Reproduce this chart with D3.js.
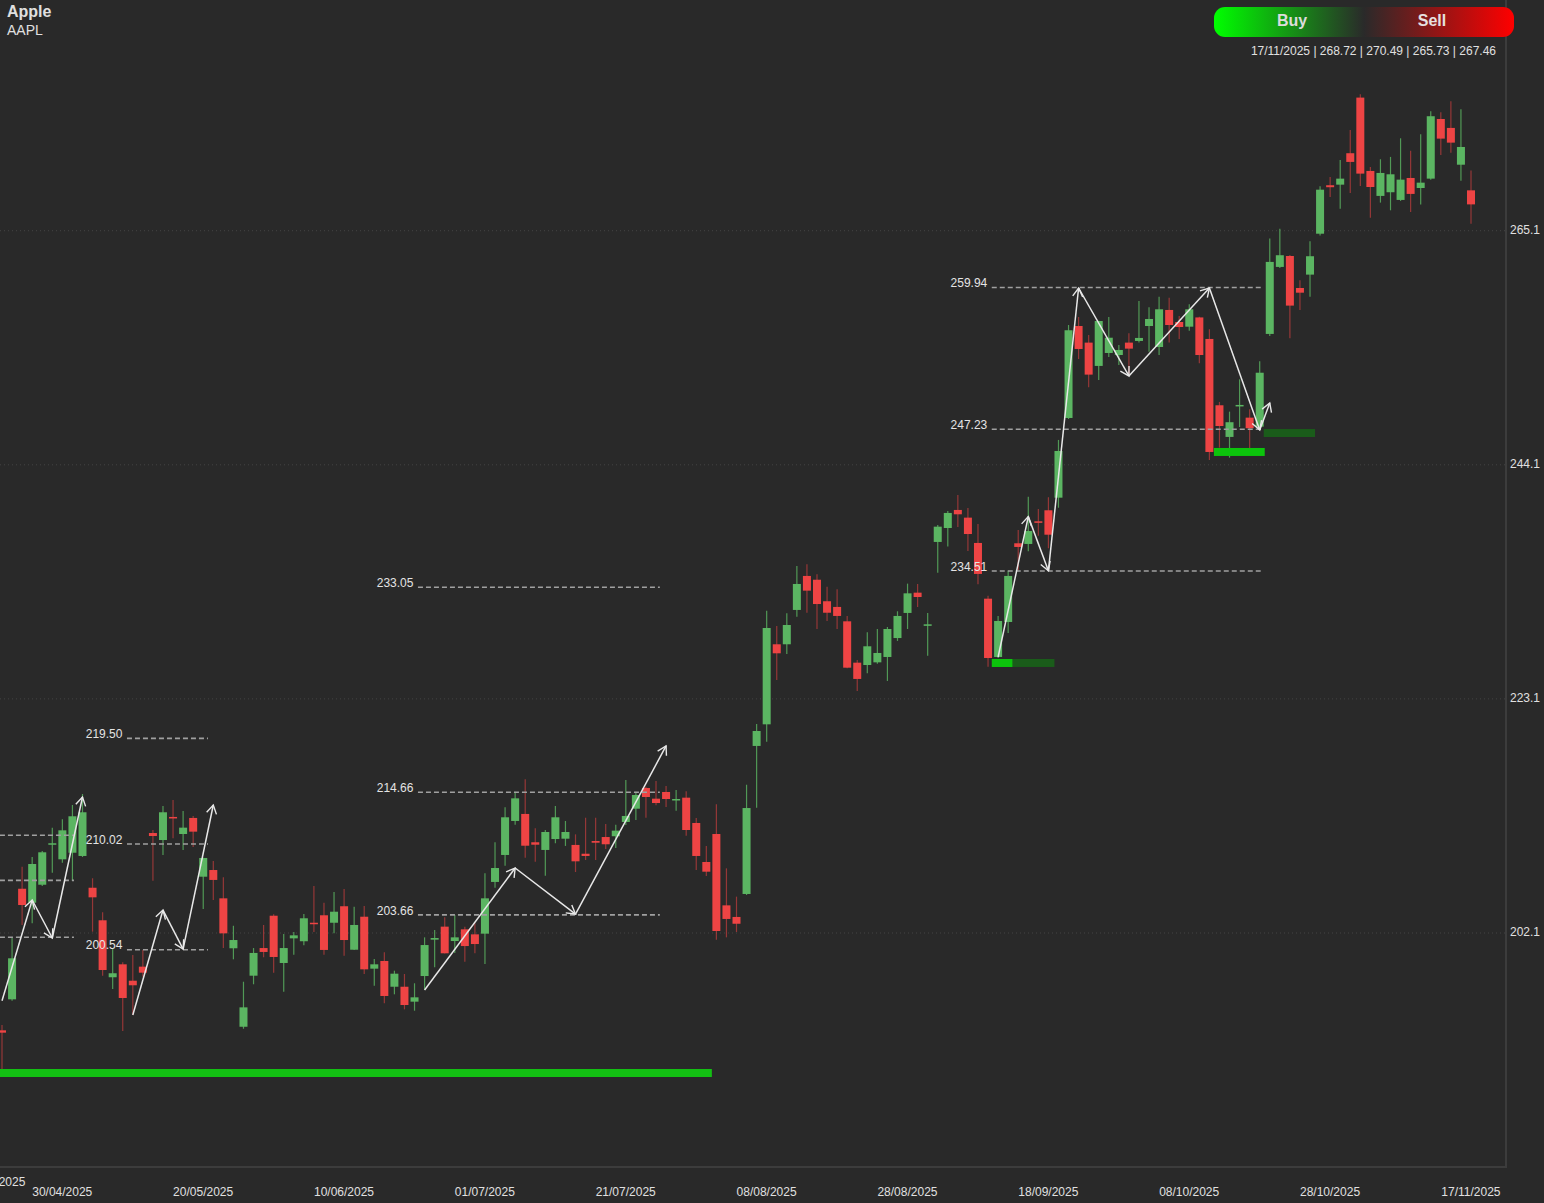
<!DOCTYPE html>
<html>
<head>
<meta charset="utf-8">
<script src="https://cdn.jsdelivr.net/npm/d3@7"></script>
<style>
    html, body { margin: 0; padding: 0; background: #292929; overflow: hidden; }
    svg { display: block; font-family: "Liberation Sans", Arial, sans-serif; }
</style>
</head>
<body>
<div id="graph"></div>
<script>
const opens = [193.37,196.15,206.07,204.82,206.43,210.06,208.71,209.30,209.01,206.16,203.24,198.13,199.29,197.82,199.08,211.07,210.44,212.51,210.98,212.42,207.15,207.75,205.21,200.73,193.69,198.27,200.75,203.65,199.41,201.62,201.36,203.02,203.69,203.02,204.50,200.60,
    203.56,198.90,199.59,197.28,197.28,195.94,198.24,201.50,202.67,201.38,202.43,201.98,202.04,206.68,209.10,212.15,212.78,210.24,209.55,210.53,210.56,210.00,209.21,210.35,210.71,210.78,212.06,213.25,215.11,214.15,214.75,214.00,214.24,211.97,208.47,210.98,204.58,203.54,205.60,218.88,
    220.82,228.00,228.00,231.08,234.13,233.79,231.86,231.35,230.06,226.35,226.14,226.38,226.86,228.56,230.81,232.63,229.67,237.18,238.43,240.05,239.36,237.09,232.09,226.86,230.00,237.06,237.00,239.03,240.02,241.15,
    248.30,256.55,255.06,252.97,254.13,253.95,255.06,255.21,256.55,254.67,257.99,256.91,256.49,257.32,255.39,249.44,246.60,249.35,248.33,247.52,
    255.84,261.85,262.83,259.96,261.16,264.83,269.18,269.23,272.05,277.04,270.46,268.22,268.55,267.86,269.83,268.93,269.77,275.12,274.32,271.02,268.72];
const highs = [193.85,201.65,208.05,208.92,209.46,211.55,212.30,213.58,214.57,207.01,203.96,200.73,199.47,200.13,200.58,211.34,213.49,214.03,213.05,212.60,208.86,208.56,207.10,202.75,197.73,200.75,202.82,203.78,202.01,202.19,203.80,206.32,204.82,205.78,206.05,204.46,
    204.52,199.77,200.37,198.72,198.42,197.59,201.71,202.37,203.51,203.72,202.67,202.97,207.46,210.24,213.38,214.78,215.89,211.49,211.34,213.49,212.15,210.95,212.44,212.44,211.88,211.82,215.83,214.78,215.23,215.74,215.29,214.93,214.81,212.42,209.91,213.65,207.90,205.36,215.40,220.85,
    231.01,229.64,230.78,235.02,235.18,234.28,233.17,232.93,230.54,226.59,229.08,229.37,229.55,230.96,233.44,233.41,230.81,238.70,239.96,241.39,240.23,238.79,232.36,230.54,234.60,238.25,241.24,240.14,241.19,246.33,
    256.64,257.36,255.75,257.03,257.36,254.85,255.90,258.80,258.23,259.18,259.09,257.45,258.50,257.39,256.26,249.74,248.87,251.77,249.08,253.39,
    264.39,265.28,262.92,260.65,264.15,269.09,269.92,271.45,274.14,277.34,270.82,271.51,271.72,273.39,272.28,273.75,275.82,275.73,276.71,275.99,270.49];
const lows = [189.81,196.03,202.82,202.97,206.32,207.51,208.41,206.77,208.92,202.22,198.27,197.08,193.31,194.74,198.18,206.79,209.10,210.60,209.55,209.82,204.25,205.06,200.75,199.74,193.51,197.50,199.92,198.54,196.83,200.15,201.00,202.19,200.15,202.07,200.06,200.58,
    198.42,197.37,195.79,196.60,195.25,195.13,196.99,199.02,200.25,200.31,199.53,200.28,199.32,206.16,208.14,211.82,208.86,208.50,207.24,210.15,209.91,207.57,208.65,208.65,209.64,209.73,211.79,212.24,212.44,213.56,213.40,213.07,210.83,207.75,207.21,201.50,201.71,202.19,205.51,213.34,
    219.26,224.80,227.13,230.48,230.83,229.37,230.09,229.37,225.85,223.81,225.40,226.26,224.71,228.30,229.37,231.35,226.98,234.42,236.76,238.52,236.37,233.38,225.99,226.77,229.01,234.67,236.34,237.74,236.61,240.25,
    248.21,253.59,251.06,251.71,253.77,253.06,252.07,255.06,254.25,253.95,255.06,255.39,256.13,253.21,244.53,245.64,244.74,247.49,245.58,247.31,
    255.66,261.76,255.45,257.99,259.18,264.66,268.13,267.08,268.49,269.11,266.27,267.62,266.93,267.77,266.78,267.44,269.68,271.89,272.10,269.59,265.73];
const closes = [193.16,199.83,204.61,208.29,209.34,210.15,211.31,212.57,212.93,205.30,198.78,198.49,196.27,197.41,198.54,210.80,212.93,212.42,211.55,211.19,208.83,206.86,202.07,201.47,195.43,200.31,200.40,199.95,200.75,201.89,203.42,202.91,200.58,204.01,201.47,202.82,
    198.84,199.29,196.45,198.45,195.64,196.33,201.02,201.65,200.28,201.71,200.93,201.11,205.21,207.93,212.48,214.18,209.93,210.02,211.16,212.48,211.16,208.53,209.01,210.20,210.06,211.28,212.60,214.48,214.30,213.76,214.12,214.12,211.34,209.01,207.60,202.28,203.36,202.93,213.31,220.22,
    229.46,227.19,229.73,233.41,232.81,231.61,230.83,230.54,225.90,224.89,227.82,227.22,229.37,230.54,232.57,232.24,229.79,238.55,239.78,239.66,237.89,234.31,226.77,230.09,234.13,236.73,238.16,238.94,237.83,245.34,
    256.17,254.49,252.19,257.00,255.50,254.40,254.52,255.48,257.18,258.05,256.64,256.46,258.05,253.95,245.25,247.58,247.92,249.47,247.38,252.36,
    262.30,262.90,258.38,259.54,262.81,268.78,269.00,269.77,271.27,270.22,269.02,270.28,270.16,269.68,268.40,269.41,275.37,273.36,273.00,272.61,267.46];

const tickIndex = [-0.65, 6, 20, 34, 48, 62, 76, 90, 104, 118, 132, 146];
const tickLabels = ['21/04/2025', '30/04/2025', '20/05/2025', '10/06/2025', '01/07/2025', '21/07/2025',
    '08/08/2025', '28/08/2025', '18/09/2025', '08/10/2025', '28/10/2025', '17/11/2025'];
const priceTicks = [265.1, 244.1, 223.1, 202.1];

// dashed levels: start index, end index, price, printed or not
const levelStart = [-1, -1, -1, 12.42, 12.42, 12.42, 41.34, 41.34, 41.34, 98.37, 98.37, 98.37];
const levelEnd = [7.15, 7.15, 7.15, 20.47, 20.47, 20.47, 65.38, 65.38, 65.38, 125.1, 125.1, 125.1];
const levelPrice = [210.80, 206.76, 201.65, 219.50, 210.02, 200.54, 233.05, 214.66, 203.66, 259.94, 247.23, 234.51];
const levelShown = [false, false, false, true, true, true, true, true, true, true, true, true];

// zigzags, every segment ends in an arrow head
const zigzagIndex = [[0, 3, 5, 8], [13, 16, 18, 21], [42, 51, 57, 66], [99, 102, 104, 107, 112, 120, 125, 126]];
const zigzagPrice = [
    [196.03, 205.06, 201.65, 214.30],
    [194.74, 204.16, 200.66, 213.58],
    [196.99, 207.93, 203.80, 218.88],
    [226.86, 239.45, 234.60, 259.96, 252.07, 259.96, 247.23, 249.65]
];

// flat zones under the price
const zoneStart = [-1, 98.37, 100.45, 120.45, 125.4];
const zoneEnd = [70.55, 100.45, 104.6, 125.5, 130.5];
const zonePrice = [189.90, 226.68, 226.68, 245.61, 247.31];
const zoneColor = ['#13c013', '#0cc40c', '#1a5c1a', '#0cc40c', '#1a5c1a'];

const width = 1544;
const height = 1203;
const bg = '#292929';
const green = '#5bb562';
const red = '#ee4444';

const x = d3.scaleLinear().domain([0, 146]).range([2, 1471]);
const y = d3.scaleLinear().domain([265.1, 202.1]).range([230.7, 933]);

const svg = d3.select('#graph')
    .append('svg')
    .attr('width', width)
    .attr('height', height)
    .style('background-color', bg);

const defs = svg.append('defs');

const grad = defs.append('linearGradient').attr('id', 'buysell');
grad.append('stop').attr('offset', '0%').attr('stop-color', '#00ff00');
grad.append('stop').attr('offset', '50%').attr('stop-color', '#2a2a2a');
grad.append('stop').attr('offset', '100%').attr('stop-color', '#ff0000');

defs.append('marker')
    .attr('id', 'head')
    .attr('markerUnits', 'userSpaceOnUse')
    .attr('markerWidth', 14)
    .attr('markerHeight', 14)
    .attr('viewBox', '-12 -7 14 14')
    .attr('refX', 0)
    .attr('refY', 0)
    .attr('orient', 'auto')
    .append('path')
    .attr('d', 'M-8.5,-5 L0,0 L-8.5,5')
    .attr('fill', 'none')
    .attr('stroke', '#e8e8e8')
    .attr('stroke-width', 1.4);

// grid
svg.append('g')
    .selectAll('line')
    .data(priceTicks)
    .join('line')
    .attr('x1', 0)
    .attr('x2', 1506)
    .attr('y1', d => y(d))
    .attr('y2', d => y(d))
    .attr('stroke', '#444')
    .attr('stroke-width', 1)
    .attr('stroke-dasharray', '1,3');

// frame
svg.append('line').attr('x1', 1506).attr('x2', 1506).attr('y1', 0).attr('y2', 1167)
    .attr('stroke', '#3c3c3c').attr('stroke-width', 2);
svg.append('line').attr('x1', 0).attr('x2', 1507).attr('y1', 1167).attr('y2', 1167)
    .attr('stroke', '#3c3c3c').attr('stroke-width', 2);

// axes
const yAxis = d3.axisRight(y).tickValues(priceTicks).tickFormat(d3.format('.1f')).tickSize(0).tickPadding(4);
const yG = svg.append('g').attr('transform', 'translate(1506,0)').call(yAxis);
yG.select('.domain').remove();
yG.selectAll('text').attr('y', -1).attr('fill', '#e0e0e0').style('font-size', '12px').style('font-family', '"Liberation Sans", Arial, sans-serif');

const xAxis = d3.axisBottom(x).tickValues(tickIndex).tickFormat((d, i) => tickLabels[i]).tickSize(0).tickPadding(20);
const xG = svg.append('g').attr('transform', 'translate(-0.6,1167)').call(xAxis);
xG.select('.domain').remove();
xG.selectAll('text').attr('fill', '#e0e0e0').style('font-size', '12px').style('font-family', '"Liberation Sans", Arial, sans-serif');
xG.selectAll('text').filter((d, i) => i === 0).attr('y', 10);

// candles
const candles = svg.append('g')
    .selectAll('g')
    .data(opens.map((o, i) => i))
    .join('g')
    .attr('transform', i => `translate(${x(i)},0)`);

candles.append('line')
    .attr('y1', i => y(highs[i]))
    .attr('y2', i => y(lows[i]))
    .attr('stroke', i => closes[i] >= opens[i] ? green : red)
    .attr('stroke-opacity', i => closes[i] >= opens[i] ? 0.8 : 0.55)
    .attr('stroke-width', 1.2);

candles.append('rect')
    .attr('x', -4)
    .attr('width', 8)
    .attr('y', i => y(Math.max(opens[i], closes[i])))
    .attr('height', i => Math.max(1.5, Math.abs(y(opens[i]) - y(closes[i]))))
    .attr('fill', i => closes[i] >= opens[i] ? green : red);

// zones
svg.append('g')
    .selectAll('rect')
    .data(zonePrice.map((p, i) => i))
    .join('rect')
    .attr('x', i => x(zoneStart[i]))
    .attr('width', i => x(zoneEnd[i]) - x(zoneStart[i]))
    .attr('y', i => y(zonePrice[i]))
    .attr('height', 8)
    .attr('fill', i => zoneColor[i]);

// levels
const levels = svg.append('g').attr('transform', 'translate(0,-0.7)');
levels.selectAll('line')
    .data(levelPrice.map((p, i) => i))
    .join('line')
    .attr('x1', i => x(levelStart[i]))
    .attr('x2', i => x(levelEnd[i]))
    .attr('y1', i => y(levelPrice[i]))
    .attr('y2', i => y(levelPrice[i]))
    .attr('stroke', '#a0a0a0')
    .attr('stroke-width', 1.6)
    .attr('stroke-dasharray', '5,3');

levels.selectAll('text')
    .data(levelPrice.map((p, i) => i).filter(i => levelShown[i]))
    .join('text')
    .attr('x', i => x(levelStart[i]) - 4.5)
    .attr('y', i => y(levelPrice[i]) - 0.3)
    .attr('text-anchor', 'end')
    .attr('fill', '#e4e4e4')
    .style('font-size', '12px')
    .text(i => levelPrice[i].toFixed(2));

// zigzag arrows
zigzagIndex.forEach((idx, k) => {
    svg.append('g')
        .selectAll('line')
        .data(d3.pairs(idx.map((d, i) => i)))
        .join('line')
        .attr('x1', d => x(idx[d[0]]))
        .attr('y1', d => y(zigzagPrice[k][d[0]]))
        .attr('x2', d => x(idx[d[1]]))
        .attr('y2', d => y(zigzagPrice[k][d[1]]))
        .attr('stroke', '#e8e8e8')
        .attr('stroke-width', 1.5)
        .attr('marker-end', 'url(#head)');
});

// header
svg.append('text').attr('x', 7).attr('y', 17).attr('fill', '#e0e0e0')
    .style('font-size', '16px').style('font-weight', 'bold').text('Apple');
svg.append('text').attr('x', 7).attr('y', 35).attr('fill', '#e0e0e0')
    .style('font-size', '14px').text('AAPL');

svg.append('rect').attr('x', 1214).attr('y', 7).attr('width', 300).attr('height', 30).attr('rx', 11)
    .attr('fill', 'url(#buysell)');
svg.append('text').attr('x', 1292).attr('y', 26).attr('text-anchor', 'middle').attr('fill', '#dcdcdc')
    .style('font-size', '16px').style('font-weight', 'bold').text('Buy');
svg.append('text').attr('x', 1432).attr('y', 26).attr('text-anchor', 'middle').attr('fill', '#e6e0e0')
    .style('font-size', '16px').style('font-weight', 'bold').text('Sell');

svg.append('text').attr('x', 1496).attr('y', 55).attr('text-anchor', 'end').attr('fill', '#e0e0e0')
    .style('font-size', '12px').text('17/11/2025 | 268.72 | 270.49 | 265.73 | 267.46');
</script>
</body>
</html>
